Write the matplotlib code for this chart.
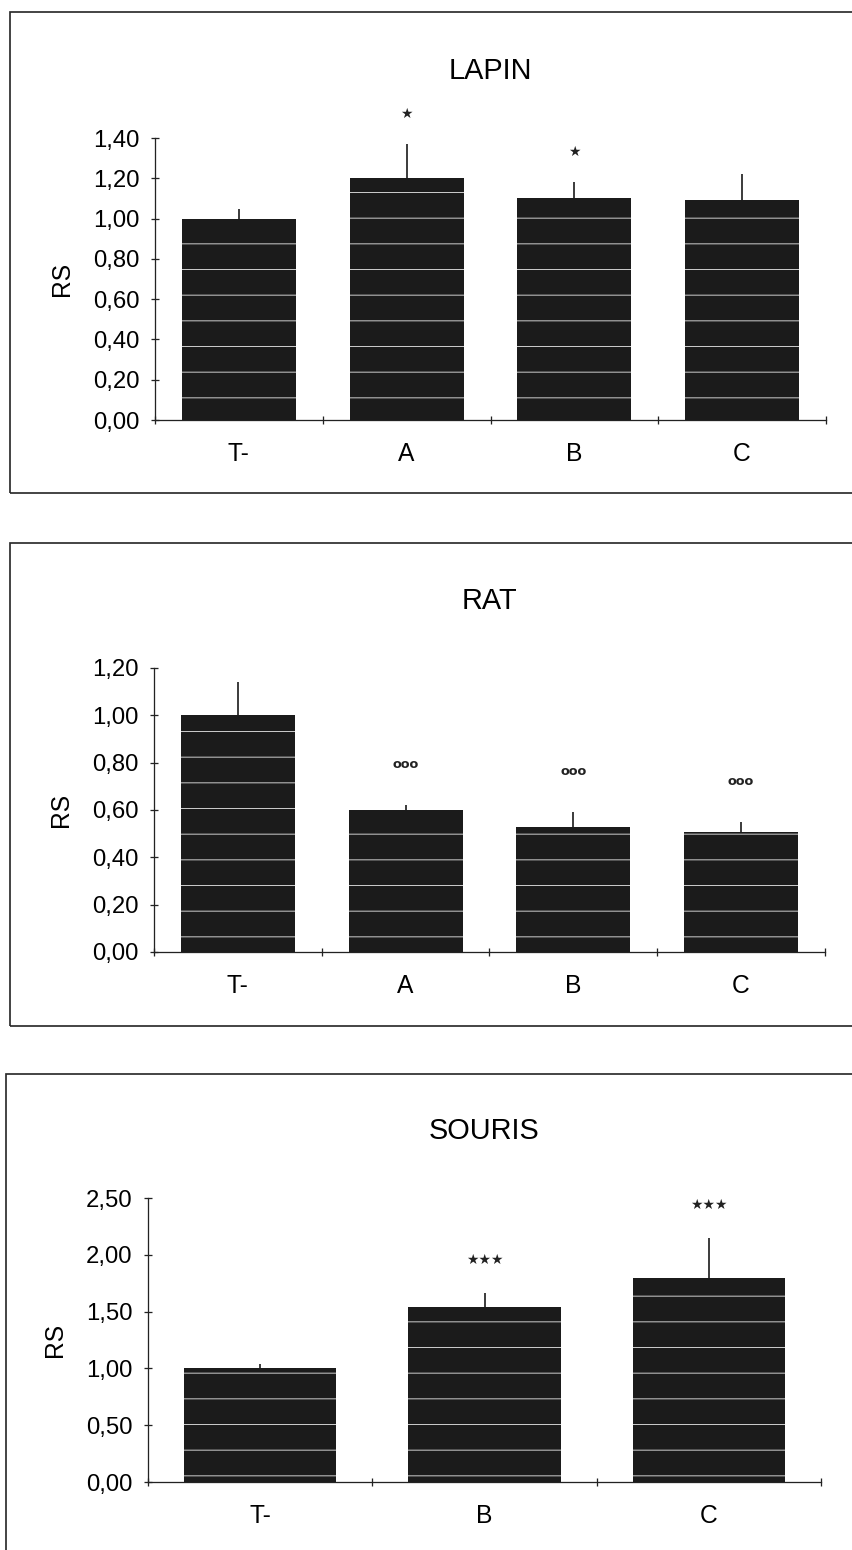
import matplotlib
matplotlib.use('Agg')
import matplotlib.pyplot as plt
import numpy as np
from matplotlib.patches import Rectangle
from matplotlib.ticker import FuncFormatter

plt.rcParams['font.family'] = ['Liberation Sans', 'DejaVu Sans']
plt.rcParams['hatch.linewidth'] = 0.45

# data (RS = mean ratio, sd = upper error bar)
lapin_groups = ['T-', 'A', 'B', 'C']
lapin_rs = [1.00, 1.20, 1.10, 1.09]
lapin_sd = [0.05, 0.17, 0.08, 0.13]
lapin_sig = ['', '\u2605', '\u2605', '']

rat_groups = ['T-', 'A', 'B', 'C']
rat_rs = [1.00, 0.60, 0.53, 0.505]
rat_sd = [0.14, 0.02, 0.06, 0.045]
rat_sig = ['', 'ooo', 'ooo', 'ooo']

souris_groups = ['T-', 'B', 'C']
souris_rs = [1.00, 1.54, 1.80]
souris_sd = [0.04, 0.12, 0.35]
souris_sig = ['', '\u2605\u2605\u2605', '\u2605\u2605\u2605']

W, H, DPI = 852, 1550, 154
BAR_COLOR = '#1b1b1b'


def fmt_comma(v, pos):
    return f'{v:.2f}'.replace('.', ',')


def draw_panel(fig, rect, box, title, groups, rs, sd, sig, ymax, ystep, sig_off, sig_size, sig_bold):
    # frame around the panel (in pixels, converted to figure fraction)
    bx0, by0, bx1, by1 = box
    fig.add_artist(Rectangle((bx0 / W, 1 - by1 / H), (bx1 - bx0) / W, (by1 - by0) / H,
                             transform=fig.transFigure, fill=False, ec='#2a2a2a', lw=0.8))

    x0, y0, x1, y1 = rect
    ax = fig.add_axes([x0 / W, 1 - y1 / H, (x1 - x0) / W, (y1 - y0) / H])
    n = len(groups)
    x = np.arange(n)
    ax.bar(x, rs, width=0.68, color=BAR_COLOR, hatch='-', edgecolor='#d0d0d0', linewidth=0, zorder=2)
    ax.errorbar(x, rs, yerr=[np.zeros(n), sd], fmt='none', ecolor='#111111',
                elinewidth=0.75, capsize=0, zorder=3)
    for i in range(n):
        if sig[i]:
            ax.annotate(sig[i], xy=(x[i], rs[i] + sd[i]), xytext=(0, sig_off),
                        textcoords='offset points', ha='center', va='center',
                        fontsize=sig_size, fontweight='bold' if sig_bold else 'normal',
                        color='#222222', annotation_clip=False,
                        family=['DejaVu Sans'])

    ax.set_xlim(-0.5, n - 0.5)
    ax.set_ylim(0, ymax)
    ax.set_yticks(np.arange(0, ymax + 1e-9, ystep))
    ax.yaxis.set_major_formatter(FuncFormatter(fmt_comma))
    ax.set_xticks(x)
    ax.set_xticklabels(groups)
    ax.set_xticks(np.arange(n + 1) - 0.5, minor=True)

    for side in ('top', 'right'):
        ax.spines[side].set_visible(False)
    for side in ('left', 'bottom'):
        ax.spines[side].set_linewidth(0.6)
        ax.spines[side].set_color('#222222')

    ax.tick_params(axis='y', direction='inout', length=3.5, width=0.6, pad=5.5,
                   labelsize=11.2, color='#222222')
    ax.tick_params(axis='x', which='major', length=0, pad=10.5, labelsize=11.5)
    ax.tick_params(axis='x', which='minor', direction='inout', length=3.5, width=0.6,
                   color='#222222')
    ax.set_ylabel('RS', fontsize=11.5, labelpad=9)
    ax.set_title(title, fontsize=13.5, pad=27.5)
    return ax


fig = plt.figure(figsize=(W / DPI, H / DPI), dpi=DPI)

draw_panel(fig, (155, 138, 826, 420), (10, 12, 870, 493), 'LAPIN',
           lapin_groups, lapin_rs, lapin_sd, lapin_sig, 1.4, 0.2, 14, 6.5, False)
draw_panel(fig, (154, 668, 825, 952), (10, 543, 870, 1026), 'RAT',
           rat_groups, rat_rs, rat_sd, rat_sig, 1.2, 0.2, 19, 6, True)
draw_panel(fig, (148, 1198, 821, 1482), (6, 1074, 870, 1570), 'SOURIS',
           souris_groups, souris_rs, souris_sd, souris_sig, 2.5, 0.5, 15.5, 6.5, False)

fig.savefig('out.png', dpi=DPI)
